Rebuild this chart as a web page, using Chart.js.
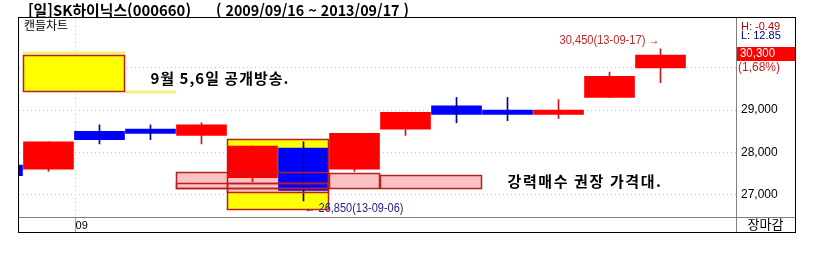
<!DOCTYPE html>
<html lang="ko">
<head>
<meta charset="utf-8">
<title>SK하이닉스 캔들차트</title>
<script src="https://cdn.jsdelivr.net/npm/chart.js@4.4.1/dist/chart.umd.min.js"></script>
<style>
  html, body { margin: 0; padding: 0; background: #fff; }
  #wrap { width: 816px; height: 253px; }
</style>
</head>
<body>
<div id="wrap"><canvas id="chart" width="816" height="253"></canvas></div>
<script>
// 일봉 (첫 봉 08-29는 왼쪽 끝에 잘려서 보임)
const dates  = ['13-08-29', '13-08-30', '13-09-02', '13-09-03', '13-09-04', '13-09-05', '13-09-06',
                '13-09-09', '13-09-10', '13-09-11', '13-09-12', '13-09-13', '13-09-16', '13-09-17'];
const opens  = [27700, 27600, 28500, 28550, 28400, 27400, 28100, 27600, 28550, 29100, 29000, 28900, 29300, 30000];
const highs  = [27700, 28250, 28650, 28650, 28700, 28150, 28250, 28450, 28950, 29300, 29300, 29250, 29900, 30450];
const lows   = [27450, 27550, 28200, 28300, 28200, 27300, 26850, 27550, 28400, 28700, 28750, 28800, 29300, 29650];
const closes = [27450, 28250, 28300, 28450, 28650, 28150, 27100, 28450, 28950, 28900, 28900, 29000, 29800, 30300];

// 축 눈금
const yTicks = [27000, 28000, 29000, 30000];
const monthTicks = [0.53];
const monthLabels = ['09'];

// 화면 글자
const titleText = '[일]SK하이닉스(000660)';
const rangeText = '( 2009/09/16 ~ 2013/09/17 )';
const hiText = 'H: -0.49';
const loText = 'L: 12.85';
const changeText = '(1,68%)';
const noteTop = '9월 5,6일 공개방송.';
const noteBand = '강력매수 권장 가격대.';

// 메모 박스: 봉 슬롯 구간과 가격 구간
const yellowBoxes = [
  { from: -0.5, to: 1.5, lo: 29420, hi: 30300 },
  { from: 3.5, to: 5.5, lo: 26630, hi: 28310 }
];
const pinkBoxes = [
  { from: 2.5, to: 5.5, lo: 27125, hi: 27530 },
  { from: 2.5, to: 5.5, lo: 27125, hi: 27280 },
  { from: 3.5, to: 5.5, lo: 27030, hi: 27280 },
  { from: 5.5, to: 6.5, lo: 27125, hi: 27505 },
  { from: 6.5, to: 8.5, lo: 27125, hi: 27455 }
];
const glowLines = [
  { from: -0.5, to: 1.5, at: 30340 },
  { from: 1.5, to: 2.5, at: 29440 }
];

const slot = (i) => i - 1;
const up = (i) => closes[i] >= opens[i];
const hiIdx = highs.indexOf(Math.max(...highs));
const loIdx = lows.indexOf(Math.min(...lows));
const last = closes.length - 1;
const upIdx = dates.map((d, i) => i).filter((i) => up(i));
const downIdx = dates.map((d, i) => i).filter((i) => !up(i));

const KR = '"Noto Sans CJK KR", sans-serif';
const LAT = '"Liberation Sans", Arial, sans-serif';

function boxRect(xs, ys, b) {
  const x1 = Math.round(xs.getPixelForValue(b.from));
  const x2 = Math.round(xs.getPixelForValue(b.to));
  const y1 = Math.round(ys.getPixelForValue(b.hi));
  const y2 = Math.round(ys.getPixelForValue(b.lo));
  return { x1, x2, y1, y2 };
}

const deco = {
  id: 'deco',
  beforeDatasetsDraw(chart) {
    const { ctx, chartArea: a, scales: { x, y } } = chart;
    ctx.save();
    ctx.beginPath(); ctx.rect(a.left, a.top, a.right - a.left, a.bottom - a.top); ctx.clip();
    // 노란 밑줄 (반짝이 선)
    ctx.strokeStyle = '#f3ef7a'; ctx.lineWidth = 3;
    glowLines.forEach((g) => {
      const py = Math.round(y.getPixelForValue(g.at));
      ctx.beginPath(); ctx.moveTo(x.getPixelForValue(g.from), py); ctx.lineTo(x.getPixelForValue(g.to), py); ctx.stroke();
    });
    ctx.fillStyle = '#ffff00';
    yellowBoxes.forEach((b) => { const r = boxRect(x, y, b); ctx.fillRect(r.x1, r.y1, r.x2 - r.x1, r.y2 - r.y1); });
    ctx.fillStyle = '#ffc2c2';
    pinkBoxes.forEach((b) => { const r = boxRect(x, y, b); ctx.fillRect(r.x1, r.y1, r.x2 - r.x1, r.y2 - r.y1); });
    ctx.restore();
  },
  afterDatasetsDraw(chart) {
    const { ctx, chartArea: a, scales: { x, y } } = chart;
    ctx.save();
    ctx.beginPath(); ctx.rect(a.left, a.top, a.right - a.left, a.bottom - a.top); ctx.clip();
    ctx.strokeStyle = '#b82020'; ctx.lineWidth = 1.5;
    yellowBoxes.concat(pinkBoxes).forEach((b) => {
      const r = boxRect(x, y, b);
      ctx.strokeRect(r.x1 + 0.5, r.y1 + 0.5, r.x2 - r.x1 - 1, r.y2 - r.y1 - 1);
    });

    // 메모 글자
    ctx.fillStyle = '#000';
    ctx.textBaseline = 'middle'; ctx.textAlign = 'left';
    ctx.font = 'bold 15px ' + KR;
    ctx.letterSpacing = '1px';
    ctx.fillText(noteTop, x.getPixelForValue(2), y.getPixelForValue(29750));
    ctx.letterSpacing = '1.6px';
    ctx.fillText(noteBand, x.getPixelForValue(9), y.getPixelForValue(27320));
    ctx.letterSpacing = '0px';

    // 최고/최저 표시
    ctx.font = '12px ' + LAT;
    ctx.fillStyle = '#c0282d'; ctx.textAlign = 'right'; ctx.textBaseline = 'bottom';
    ctx.fillText(highs[hiIdx].toLocaleString('en-US') + '(' + dates[hiIdx] + ') \u2192',
      x.getPixelForValue(slot(hiIdx)) - 1, y.getPixelForValue(highs[hiIdx]) - 2, 100);
    ctx.fillStyle = '#24248a'; ctx.textAlign = 'left'; ctx.textBaseline = 'top';
    ctx.fillText('\u2190 ' + lows[loIdx].toLocaleString('en-US') + '(' + dates[loIdx] + ')',
      x.getPixelForValue(slot(loIdx)) + 1, y.getPixelForValue(lows[loIdx]) + 2, 99);

    ctx.fillStyle = '#000'; ctx.textBaseline = 'top';
    ctx.font = '12px ' + KR;
    ctx.fillText('캔들차트', a.left + 5, a.top + 1);
    ctx.restore();
  },
  afterDraw(chart) {
    const { ctx, chartArea: a, scales: { y } } = chart;
    ctx.save();
    // 바깥 틀
    ctx.strokeStyle = '#000'; ctx.lineWidth = 1;
    ctx.strokeRect(18.5, 17.5, 777, 215);
    ctx.strokeStyle = '#808080';
    ctx.beginPath();
    ctx.moveTo(a.right, a.bottom + 0.5); ctx.lineTo(795, a.bottom + 0.5);
    ctx.moveTo(a.right + 0.5, a.bottom); ctx.lineTo(a.right + 0.5, 232);
    ctx.stroke();

    // 제목
    ctx.fillStyle = '#000'; ctx.textAlign = 'left'; ctx.textBaseline = 'middle';
    ctx.font = 'bold 15px ' + KR;
    ctx.fillText(titleText, 28, 10, 163);
    ctx.fillText(rangeText, 216, 10, 193);

    // 오른쪽 정보
    ctx.font = '11px ' + LAT; ctx.textBaseline = 'top';
    ctx.fillStyle = '#b00000'; ctx.fillText(hiText, a.right + 5, 21);
    ctx.fillStyle = '#000080'; ctx.fillText(loText, a.right + 5, 30);
    const py = Math.round(y.getPixelForValue(closes[last]));
    ctx.fillStyle = '#ff0000'; ctx.fillRect(a.right + 1, py - 8, 795 - a.right - 1, 14);
    ctx.fillStyle = '#fff'; ctx.font = '12px ' + LAT; ctx.textBaseline = 'middle';
    ctx.fillText(closes[last].toLocaleString('en-US'), a.right + 4, py - 1, 35);
    ctx.fillStyle = '#d01818'; ctx.textBaseline = 'top';
    ctx.fillText(changeText, a.right + 2, py + 7);

    ctx.fillStyle = '#000'; ctx.textAlign = 'center';
    ctx.font = '13px ' + KR;
    ctx.fillText('장마감', (a.right + 795) / 2, a.bottom + 1);
    ctx.restore();
  }
};

new Chart(document.getElementById('chart'), {
  type: 'bar',
  data: {
    datasets: [
      {
        label: '양봉 꼬리',
        data: upIdx.map((i) => ({ x: slot(i), y: [lows[i], highs[i]] })),
        backgroundColor: '#cc1515',
        barThickness: 1, grouped: false, borderWidth: 0, order: 3
      },
      {
        label: '몸통',
        data: dates.map((d, i) => ({ x: slot(i), y: [opens[i], closes[i]] })),
        backgroundColor: dates.map((d, i) => (up(i) ? '#ff0000' : '#0000ff')),
        barThickness: 50, grouped: false, borderWidth: 0, order: 2
      },
      {
        label: '음봉 꼬리',
        data: downIdx.map((i) => ({ x: slot(i), y: [lows[i], highs[i]] })),
        backgroundColor: '#0000a0',
        barThickness: 1, grouped: false, borderWidth: 0, order: 1
      }
    ]
  },
  options: {
    responsive: false,
    animation: false,
    layout: { padding: { left: 19, top: 18, right: 21, bottom: 21 } },
    plugins: { legend: { display: false }, tooltip: { enabled: false } },
    scales: {
      x: {
        type: 'linear', min: -0.578, max: 13.48, offset: false,
        afterBuildTicks: (s) => { s.ticks = monthTicks.map((v) => ({ value: v })); },
        afterFit: (s) => { s.height = 15; },
        ticks: {
          callback: (v, i) => monthLabels[i], align: 'start', padding: -13,
          color: '#000', font: { family: LAT, size: 11 }, maxRotation: 0, autoSkip: false
        },
        grid: { offset: false, color: '#c4c4c4', tickColor: '#a0a0a0', tickLength: 15 },
        border: { display: true, color: '#808080', dash: [1, 3] }
      },
      y: {
        position: 'right', min: 26470, max: 31180,
        afterBuildTicks: (s) => { s.ticks = yTicks.map((v) => ({ value: v })); },
        afterFit: (s) => { s.width = 59; },
        ticks: {
          callback: (v) => (v === closes[last] - closes[last] % 1000 && v > 29500 ? '' : v.toLocaleString('en-US')),
          padding: 5, color: '#000', font: { family: LAT, size: 12 }
        },
        grid: { color: '#c4c4c4', drawTicks: false },
        border: { display: true, color: '#808080', dash: [1, 3] }
      }
    }
  },
  plugins: [deco]
});
</script>
</body>
</html>
